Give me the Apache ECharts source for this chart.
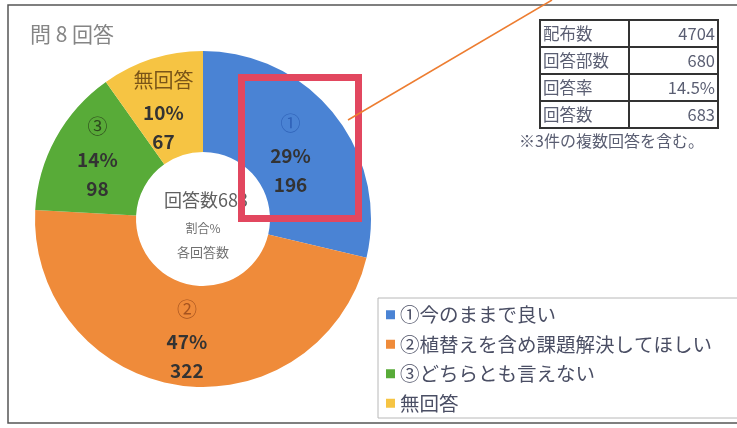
<!DOCTYPE html>
<html><head><meta charset="utf-8">
<script src="https://cdn.jsdelivr.net/npm/echarts@6/dist/echarts.min.js"></script>
<style>html,body{margin:0;padding:0;background:#fff}#c{width:737px;height:428px}</style>
</head><body><div id="c"></div>
<script>
// ---- data ----
const categories = ['①今のままで良い', '②植替えを含め課題解決してほしい', '③どちらとも言えない', '無回答'];
const shortLabels = ['①', '②', '③', '無回答'];
const counts = [196, 322, 98, 67];
const colors = ['#4a83d4', '#ef8b3a', '#58ab38', '#f6c443'];
const labelColors = ['#2f62b8', '#a5531f', '#2e4a1e', '#7a5518'];
const tableLabels = ['配布数', '回答部数', '回答率', '回答数'];
const tableValues = ['4704', '680', '14.5%', '683'];
const titleText = '問 8 回答';
const centerLines = ['回答数683', '割合%', '各回答数'];
const footnote = '※3件の複数回答を含む。';

const FONT = '"Noto Sans CJK JP", "Noto Sans", sans-serif';
const chart = echarts.init(document.getElementById('c'));

const labelOffsets = [[-7, 8], [1, 0], [0, -5], [-3, 5]];

const graphics = [];
// outer frame
graphics.push({type:'rect', shape:{x:8, y:5, width:800, height:418}, style:{fill:null, stroke:'#555', lineWidth:1.5}, z:1});
// title
graphics.push({type:'text', x:30, y:34, style:{text:titleText, font:'21px '+FONT, fill:'#858585', textVerticalAlign:'middle'}, z:1});
// table
const tx = 540, ty = 20, rowH = 27, col1 = 89, col2 = 89;
tableLabels.forEach((lab, i) => {
  const y = ty + i*rowH;
  graphics.push({type:'rect', shape:{x:tx, y:y, width:col1, height:rowH}, style:{fill:null, stroke:'#333', lineWidth:2}, z:5});
  graphics.push({type:'rect', shape:{x:tx+col1, y:y, width:col2, height:rowH}, style:{fill:null, stroke:'#333', lineWidth:2}, z:5});
  graphics.push({type:'text', x:tx+3, y:y+rowH/2, style:{text:lab, font:'16.5px '+FONT, fill:'#5a5e72', textVerticalAlign:'middle'}, z:5});
  graphics.push({type:'text', x:tx+col1+col2-3, y:y+rowH/2, style:{text:tableValues[i], font:'16.5px '+FONT, fill:'#5a5e72', textAlign:'right', textVerticalAlign:'middle'}, z:5});
});
graphics.push({type:'text', x:519, y:141, style:{text:footnote, font:'16px '+FONT, fill:'#5a5e72', textVerticalAlign:'middle'}, z:5});
// center texts
graphics.push({type:'text', x:206, y:200, style:{text:centerLines[0], font:'18px '+FONT, fill:'#606060', textAlign:'center', textVerticalAlign:'middle'}, z:10});
graphics.push({type:'text', x:203, y:228, style:{text:centerLines[1], font:'12px '+FONT, fill:'#707070', textAlign:'center', textVerticalAlign:'middle'}, z:10});
graphics.push({type:'text', x:203, y:252, style:{text:centerLines[2], font:'13px '+FONT, fill:'#707070', textAlign:'center', textVerticalAlign:'middle'}, z:10});
// legend box
graphics.push({type:'rect', shape:{x:378, y:298, width:400, height:120}, style:{fill:'#fff', stroke:'#b8b8b8', lineWidth:1}, z:1});
// red highlight rect & orange pointer line
graphics.push({type:'rect', shape:{x:241.5, y:77.5, width:117, height:141}, style:{fill:null, stroke:'#e2475f', lineWidth:7}, z:100});
graphics.push({type:'line', shape:{x1:348, y1:120, x2:552, y2:0}, style:{stroke:'#ed7d31', lineWidth:1.5}, z:100});

chart.setOption({
  animation: false,
  textStyle: {fontFamily: FONT},
  color: colors,
  graphic: {elements: graphics},
  legend: {
    orient: 'vertical', left: 381, top: 300, itemGap: 10,
    itemWidth: 9, itemHeight: 9, icon: 'rect', itemStyle: {borderWidth: 0},
    selectedMode: false,
    textStyle: {fontSize: 19.5, color: '#4a4e64', fontFamily: FONT},
    data: categories
  },
  series: [{
    type: 'pie',
    center: [203, 219],
    radius: [67, 168],
    startAngle: 90,
    clockwise: true,
    percentPrecision: 0,
    avoidLabelOverlap: false,
    emphasis: {disabled: true},
    labelLine: {show: false},
    itemStyle: {borderWidth: 0},
    label: {
      show: true, position: 'inside',
      formatter: p => '{s' + p.dataIndex + '|' + shortLabels[p.dataIndex] + '}\n{n|' + p.percent + '%}\n{n|' + p.value + '}',
      rich: {
        s0: {fontSize: 20, color: labelColors[0], lineHeight: 36, fontFamily: FONT},
        s1: {fontSize: 20, color: labelColors[1], lineHeight: 36, fontFamily: FONT},
        s2: {fontSize: 20, color: labelColors[2], lineHeight: 36, fontFamily: FONT},
        s3: {fontSize: 20, color: labelColors[3], lineHeight: 36, fontFamily: FONT},
        n: {fontSize: 19, fontWeight: 'bold', color: '#333', lineHeight: 29, fontFamily: FONT}
      }
    },
    data: categories.map((c, i) => ({name: c, value: counts[i], label: {offset: labelOffsets[i]}}))
  }]
});
</script></body></html>
